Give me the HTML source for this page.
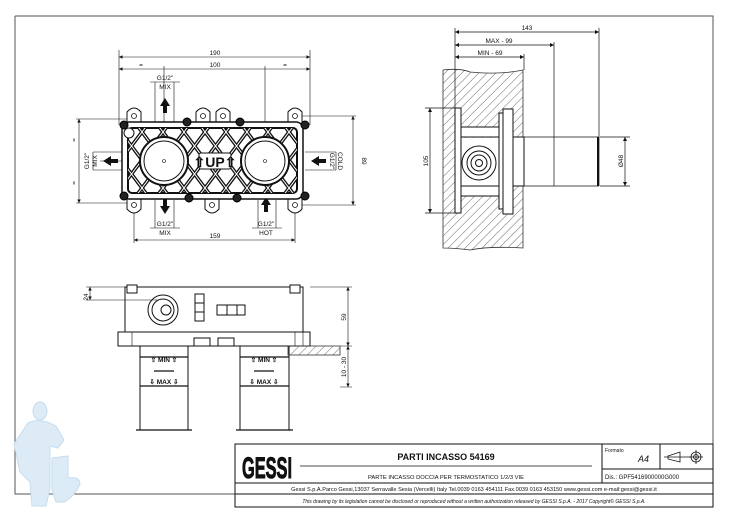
<!DOCTYPE html>
<html><head><meta charset="utf-8"><style>
html,body{margin:0;padding:0;background:#fff;width:730px;height:520px;overflow:hidden}
svg{display:block}
text{font-family:"Liberation Sans",sans-serif;fill:#111}
</style></head><body>
<svg width="730" height="520" viewBox="0 0 730 520" xmlns="http://www.w3.org/2000/svg">
<defs>
<pattern id="hatch" width="6" height="6" patternUnits="userSpaceOnUse" patternTransform="rotate(45)">
<line x1="0" y1="0" x2="0" y2="6" stroke="#444" stroke-width="0.8"/>
</pattern>
<clipPath id="inner"><rect x="128" y="128" width="169" height="65" rx="4"/></clipPath>
<marker id="ar" markerWidth="6" markerHeight="6" refX="6" refY="3" orient="auto"><path d="M0,0 L6,3 L0,6z" fill="#111"/></marker>
<marker id="al" markerWidth="6" markerHeight="6" refX="0" refY="3" orient="auto"><path d="M6,0 L0,3 L6,6z" fill="#111"/></marker>
</defs>
<path d="M15,16 H713 V494 M15,16 V494 H235" fill="none" stroke="#555" stroke-width="1"/>

<!-- plumber -->
<g fill="#ddebf6" stroke="#c6dcee" stroke-width="1">
<ellipse cx="40" cy="411" rx="7" ry="9"/>
<path d="M28,423 Q40,417 56,426 L64,440 L58,448 L50,446 L50,488 L46,506 L32,506 L30,482 L20,472 L14,444 Z"/>
<path d="M52,458 L68,456 L68,478 Q80,476 80,484 Q75,496 64,502 L56,502 L52,490Z"/>
</g>

<!-- ===== TOP VIEW ===== -->
<g stroke="#111" fill="none" stroke-width="0.6">
<line x1="119" y1="57" x2="310" y2="57" marker-start="url(#al)" marker-end="url(#ar)"/>
<line x1="119" y1="69" x2="310" y2="69" marker-start="url(#al)" marker-end="url(#ar)"/>
<line x1="119" y1="50" x2="119" y2="125"/><line x1="310" y1="50" x2="310" y2="125"/>
<line x1="164" y1="66" x2="164" y2="161"/><line x1="265" y1="66" x2="265" y2="161"/>
<line x1="76" y1="119" x2="128" y2="119"/><line x1="76" y1="203" x2="128" y2="203"/>
<line x1="79" y1="119" x2="79" y2="203" marker-start="url(#al)" marker-end="url(#ar)"/>
<line x1="300" y1="116" x2="356" y2="116"/><line x1="300" y1="205" x2="356" y2="205"/>
<line x1="353" y1="116" x2="353" y2="205" marker-start="url(#al)" marker-end="url(#ar)"/>
<line x1="134" y1="205" x2="134" y2="243"/><line x1="295" y1="205" x2="295" y2="243"/>
<line x1="134" y1="240" x2="295" y2="240" marker-start="url(#al)" marker-end="url(#ar)"/>
<path d="M150,82 H180 M155,82 V122 M174,82 V122"/>
<path d="M150,228 H180 M155,200 V228 M174,200 V228"/>
<path d="M252,228 H282 M258,200 V228 M276,200 V228"/>
<path d="M93,152 V170 M93,152 H122 M93,170 H122"/>
<path d="M336,152 V170 M336,152 H305 M336,170 H305"/>
<line x1="164" y1="161" x2="100" y2="161"/>
</g>
<g font-size="6.5" text-anchor="middle">
<text x="215" y="55">190</text><text x="215" y="67">100</text>
<text x="141" y="67">=</text><text x="285" y="67">=</text>
<text x="165" y="80">G1/2"</text><text x="165" y="89">MIX</text>
<text x="165" y="226">G1/2"</text><text x="165" y="235">MIX</text>
<text x="266" y="226">G1/2"</text><text x="266" y="235">HOT</text>
<text x="215" y="238">159</text>
<text transform="translate(89,161) rotate(-90)">G1/2"</text>
<text transform="translate(97,161) rotate(-90)">MIX</text>
<text transform="translate(330,161) rotate(90)">G1/2"</text>
<text transform="translate(338,161) rotate(90)">COLD</text>
<text transform="translate(362,161) rotate(90)">89</text>
<text transform="translate(76,140) rotate(-90)">=</text>
<text transform="translate(76,183) rotate(-90)">=</text>
</g>
<g fill="#111">
<path d="M165,98 L160,106 H163 V113 H167 V106 H170Z"/>
<path d="M165,214 L160,206 H163 V199 H167 V206 H170Z"/>
<path d="M266,197 L261,205 H264 V212 H268 V205 H271Z"/>
<path d="M103,161 L111,156 V159 H118 V163 H111 V166Z"/>
<path d="M311,161 L319,156 V159 H326 V163 H319 V166Z"/>
</g>
<g stroke="#111" stroke-width="1" fill="#fff">
<path d="M127,124 V112 Q134,104 141,112 V124Z"/><path d="M196,124 V112 Q203,104 210,112 V124Z"/>
<path d="M216,124 V112 Q223,104 230,112 V124Z"/><path d="M288,124 V112 Q295,104 302,112 V124Z"/>
<path d="M127,197 V209 Q134,217 141,209 V197Z"/><path d="M205,197 V209 Q212,217 219,209 V197Z"/>
<path d="M288,197 V209 Q295,217 302,209 V197Z"/>
</g>
<g stroke="#111" stroke-width="0.8" fill="none">
<circle cx="134" cy="116" r="2.5"/><circle cx="203" cy="116" r="2.5"/><circle cx="223" cy="116" r="2.5"/><circle cx="295" cy="116" r="2.5"/>
<circle cx="134" cy="205" r="2.5"/><circle cx="212" cy="205" r="2.5"/><circle cx="295" cy="205" r="2.5"/>
</g>
<rect x="122" y="122" width="181" height="77" rx="7" fill="#fff" stroke="#111" stroke-width="1.5"/>
<rect x="128" y="128" width="169" height="65" rx="4" fill="#fff" stroke="#111" stroke-width="2"/>
<g clip-path="url(#inner)">
<g stroke="#111" stroke-width="3.6">
<path d="M70,200 L130,120 M91,200 L151,120 M112,200 L172,120 M133,200 L193,120 M154,200 L214,120 M175,200 L235,120 M196,200 L256,120 M217,200 L277,120 M238,200 L298,120 M259,200 L319,120 M280,200 L340,120 M301,200 L361,120"/>
<path d="M70,120 L130,200 M91,120 L151,200 M112,120 L172,200 M133,120 L193,200 M154,120 L214,200 M175,120 L235,200 M196,120 L256,200 M217,120 L277,200 M238,120 L298,200 M259,120 L319,200 M280,120 L340,200 M301,120 L361,200"/>
</g>
<g stroke="#fff" stroke-width="1">
<path d="M70,200 L130,120 M91,200 L151,120 M112,200 L172,120 M133,200 L193,120 M154,200 L214,120 M175,200 L235,120 M196,200 L256,120 M217,200 L277,120 M238,200 L298,120 M259,200 L319,120 M280,200 L340,120 M301,200 L361,120"/>
<path d="M70,120 L130,200 M91,120 L151,200 M112,120 L172,200 M133,120 L193,200 M154,120 L214,200 M175,120 L235,200 M196,120 L256,200 M217,120 L277,200 M238,120 L298,200 M259,120 L319,200 M280,120 L340,200 M301,120 L361,200"/>
</g>
</g>
<g stroke="#111" fill="#fff">
<circle cx="164" cy="161" r="24" stroke-width="2"/><circle cx="164" cy="161" r="20" stroke-width="1"/>
<circle cx="265" cy="161" r="24" stroke-width="2"/><circle cx="265" cy="161" r="20" stroke-width="1"/>
<rect x="199" y="153" width="32" height="16" rx="2" stroke-width="1"/>
</g>
<circle cx="164" cy="161" r="1.5" fill="none" stroke="#111" stroke-width="0.6"/>
<circle cx="265" cy="161" r="1.5" fill="none" stroke="#111" stroke-width="0.6"/>
<text x="215" y="167" font-size="14" font-weight="bold" text-anchor="middle">⇧UP⇧</text>
<g fill="#222" stroke="#000" stroke-width="1">
<circle cx="124" cy="125" r="4"/><circle cx="187" cy="122" r="4"/><circle cx="240" cy="122" r="4"/><circle cx="305" cy="125" r="4"/>
<circle cx="124" cy="196" r="4"/><circle cx="189" cy="198" r="4"/><circle cx="237" cy="198" r="4"/><circle cx="305" cy="196" r="4"/>
</g>
<circle cx="129" cy="133" r="5" fill="#fff" stroke="#111" stroke-width="1"/>

<!-- ===== SIDE VIEW ===== -->
<path d="M443,70 Q460,68 470,72 Q500,75 523,70 V248 Q490,246 470,250 Q455,248 443,248Z" fill="url(#hatch)" stroke="#333" stroke-width="0.8"/>
<rect x="460" y="138" width="40" height="48" fill="#fff"/>
<g stroke="#111" fill="#fff" stroke-width="1">
<rect x="455" y="108" width="6" height="105"/>
<rect x="499" y="113" width="4" height="96"/>
<rect x="503" y="109" width="10" height="105"/>
<rect x="461" y="127" width="38" height="10"/>
<rect x="461" y="186" width="38" height="10"/>
<rect x="513" y="137" width="11" height="49"/>
<circle cx="479" cy="163" r="17"/><circle cx="479" cy="163" r="12"/><circle cx="479" cy="163" r="8"/><circle cx="479" cy="163" r="3.5"/>
</g>
<g stroke="#111" fill="none" stroke-width="0.7">
<path d="M524,137 H599 M524,186 H599 M554,137 V186 M599,137 V186"/>
<line x1="598" y1="137" x2="598" y2="186" stroke-width="2"/>
<line x1="455" y1="32" x2="599" y2="32" marker-start="url(#al)" marker-end="url(#ar)"/>
<line x1="455" y1="45" x2="554" y2="45" marker-start="url(#al)" marker-end="url(#ar)"/>
<line x1="455" y1="57" x2="524" y2="57" marker-start="url(#al)" marker-end="url(#ar)"/>
<path d="M455,28 V108 M599,28 V137 M554,42 V137 M524,54 V70"/>
<path d="M425,108 H455 M425,213 H455"/>
<line x1="430" y1="108" x2="430" y2="213" marker-start="url(#al)" marker-end="url(#ar)"/>
<path d="M600,137 H630 M600,186 H630"/>
<line x1="625" y1="137" x2="625" y2="186" marker-start="url(#al)" marker-end="url(#ar)"/>
</g>
<g font-size="6.5" text-anchor="middle">
<text x="527" y="30">143</text><text x="499" y="43">MAX - 99</text><text x="490" y="55">MIN - 69</text>
<text transform="translate(428,161) rotate(-90)">105</text>
<text transform="translate(623,161) rotate(-90)">Ø48</text>
</g>

<!-- ===== BOTTOM VIEW ===== -->
<g stroke="#111" fill="#fff" stroke-width="1">
<rect x="125" y="287" width="178" height="45"/>
<rect x="127" y="285" width="10" height="8"/><rect x="290" y="285" width="10" height="8"/>
<rect x="118" y="332" width="192" height="14"/>
<rect x="194" y="338" width="16" height="8"/><rect x="218" y="338" width="16" height="8"/>
<circle cx="163" cy="310" r="15"/><circle cx="163" cy="310" r="11"/><circle cx="166" cy="310" r="5"/>
<rect x="195" y="294" width="9" height="9"/><rect x="195" y="303" width="9" height="9"/><rect x="195" y="312" width="9" height="9"/>
<rect x="217" y="305" width="10" height="10"/><rect x="227" y="305" width="10" height="10"/><rect x="237" y="305" width="8" height="10"/>
<rect x="140" y="346" width="48" height="84"/>
<rect x="240" y="346" width="49" height="84"/>
</g>
<rect x="288" y="346" width="52" height="9" fill="url(#hatch)" stroke="#333" stroke-width="0.8"/>
<g stroke="#111" stroke-width="1.2" fill="none">
<path d="M140,357 H188 M140,386 H188 M240,357 H289 M240,386 H289 M136,430 H192 M236,430 H293 M154,371 H174 M254,371 H274"/>
</g>
<g stroke="#111" stroke-width="0.6" fill="none">
<path d="M125,332 V287 M132,332 V346 M303,332 V346 M295,332 V346"/>
<path d="M310,287 H352 M340,346 H352 M340,387 H352 M86,287 H125 M86,300 H158"/>
<line x1="348" y1="287" x2="348" y2="346" marker-start="url(#al)" marker-end="url(#ar)"/>
<line x1="348" y1="346" x2="348" y2="387" marker-start="url(#al)" marker-end="url(#ar)"/>
<line x1="90" y1="287" x2="90" y2="300" marker-start="url(#al)" marker-end="url(#ar)"/>
</g>
<g font-size="6.5" text-anchor="middle" font-weight="bold">
<text x="164" y="362">⇧ MIN ⇧</text><text x="164" y="384">⇩ MAX ⇩</text>
<text x="264" y="362">⇧ MIN ⇧</text><text x="264" y="384">⇩ MAX ⇩</text>
</g>
<g font-size="6.5" text-anchor="middle">
<text transform="translate(346,317) rotate(-90)">59</text>
<text transform="translate(346,367) rotate(-90)">10 - 30</text>
<text transform="translate(88,297) rotate(-90)">24</text>
</g>

<!-- ===== TITLE BLOCK ===== -->
<g stroke="#111" fill="none" stroke-width="1">
<rect x="235" y="444" width="478" height="63"/>
<path d="M235,483 H713 M235,494 H713 M602,444 V483 M660,444 V469 M602,469 H713"/>
<path d="M300,466 H592" stroke-width="0.7"/>
</g>
<text x="267" y="478" font-size="30" font-weight="bold" text-anchor="middle" font-family="Liberation Serif,serif" textLength="50" lengthAdjust="spacingAndGlyphs" stroke="#111" stroke-width="1">GESSI</text>
<text x="446" y="460" font-size="9" font-weight="bold" text-anchor="middle">PARTI INCASSO 54169</text>
<text x="446" y="479" font-size="5.8" text-anchor="middle">PARTE INCASSO DOCCIA PER TERMOSTATICO 1/2/3 VIE</text>
<text x="605" y="452" font-size="5">Formato</text>
<text x="638" y="462" font-size="9" font-style="italic">A4</text>
<text x="605" y="479" font-size="6">Dis.: GPF5416900000G000</text>
<g stroke="#111" fill="none" stroke-width="0.8">
<path d="M668,456 L680,452 V462 L668,459Z M664,457 H690"/>
<circle cx="696" cy="457" r="5"/><circle cx="696" cy="457" r="2.5"/><path d="M689,457 H703 M696,450 V464"/>
</g>
<text x="474" y="491" font-size="5.6" text-anchor="middle">Gessi S.p.A.Parco Gessi,13037 Serravalle Sesia (Vercelli) Italy Tel.0039 0163 454111 Fax.0039 0163 453150 www.gessi.com e-mail:gessi@gessi.it</text>
<text x="474" y="503" font-size="5" font-style="italic" text-anchor="middle">This drawing by its legislation cannot be disclosed or reproduced without a written authorization released by GESSI S.p.A. - 2017 Copyright© GESSI S.p.A.</text>
</svg>
</body></html>
